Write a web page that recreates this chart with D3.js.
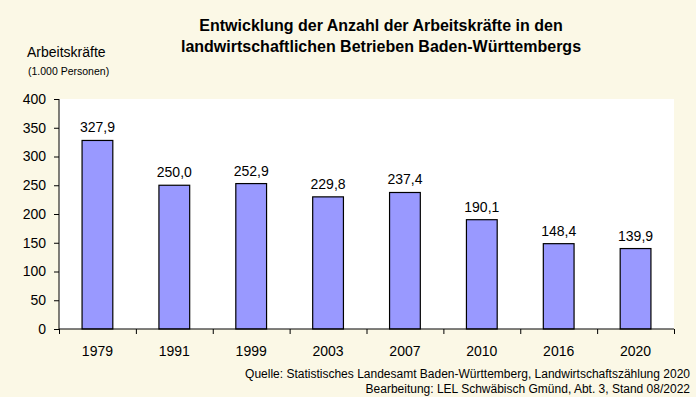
<!DOCTYPE html>
<html>
<head>
<meta charset="utf-8">
<script src="https://cdn.jsdelivr.net/npm/d3@7"></script>
<style>
  body { margin: 0; background: #fbf8e6; }
  svg { display: block; font-family: "Liberation Sans", Arial, sans-serif; }
</style>
</head>
<body>
<script>
// data
var years = ["1979", "1991", "1999", "2003", "2007", "2010", "2016", "2020"];
var workers = [327.9, 250.0, 252.9, 229.8, 237.4, 190.1, 148.4, 139.9];
var yTicks = [0, 50, 100, 150, 200, 250, 300, 350, 400];

var W = 696, H = 397;
var margin = {left: 59, right: 22, top: 99, bottom: 68},
    width = W - margin.left - margin.right,
    height = H - margin.top - margin.bottom;

var svg = d3.select("body").append("svg")
    .attr("width", W)
    .attr("height", H);

svg.append("rect").attr("width", W).attr("height", H).attr("fill", "#fbf8e6");

// title
var title = svg.append("text")
    .attr("x", 381)
    .attr("y", 31)
    .attr("text-anchor", "middle")
    .attr("font-size", "16px")
    .attr("font-weight", "bold");
title.append("tspan").attr("x", 381).text("Entwicklung der Anzahl der Arbeitskräfte in den");
title.append("tspan").attr("x", 381).attr("dy", 21).text("landwirtschaftlichen Betrieben Baden-Württembergs");

// y axis caption
svg.append("text").attr("x", 27).attr("y", 57).attr("font-size", "14px").text("Arbeitskräfte");
svg.append("text").attr("x", 28).attr("y", 75).attr("font-size", "10.5px").text("(1.000 Personen)");

var g = svg.append("g").attr("transform", "translate(" + margin.left + "," + margin.top + ")");

var x = d3.scaleBand().domain(years).range([0, width]).paddingInner(0.6).paddingOuter(0.3);
var y = d3.scaleLinear().domain([0, 400]).range([height, 0]);

g.append("rect").attr("width", width).attr("height", height).attr("fill", "#ffffff");

// bars
g.selectAll(".bar")
    .data(years)
    .enter().append("rect")
    .attr("class", "bar")
    .attr("x", function(d) { return x(d); })
    .attr("y", function(d, i) { return y(workers[i]); })
    .attr("width", x.bandwidth())
    .attr("height", function(d, i) { return height - y(workers[i]); })
    .attr("fill", "#9999ff")
    .attr("stroke", "#000")
    .attr("stroke-width", 1.2);

// value labels
g.selectAll(".val")
    .data(years)
    .enter().append("text")
    .attr("class", "val")
    .attr("x", function(d) { return x(d) + x.bandwidth() / 2; })
    .attr("y", function(d, i) { return y(workers[i]) - 8; })
    .attr("text-anchor", "middle")
    .attr("font-size", "14px")
    .text(function(d, i) { return d3.format(".1f")(workers[i]).replace(".", ","); });

// y axis
var yAxis = d3.axisLeft(y).tickValues(yTicks).tickSize(5).tickPadding(8);
var gy = g.append("g").call(yAxis);
gy.select(".domain").attr("d", "M0,0V" + height).attr("stroke", "#000");
gy.selectAll("text").attr("font-size", "14px").attr("fill", "#000")
    .attr("font-family", "Liberation Sans, Arial, sans-serif");

// x axis: ticks at category boundaries
var xb = d3.scaleLinear().domain([0, years.length]).range([0, width]);
var gx = g.append("g").attr("transform", "translate(0," + height + ")")
    .call(d3.axisBottom(xb).tickValues(d3.range(years.length + 1)).tickSize(5).tickFormat(""));
gx.select(".domain").attr("d", "M0,0H" + width).attr("stroke", "#000");

g.selectAll(".xl")
    .data(years)
    .enter().append("text")
    .attr("class", "xl")
    .attr("x", function(d) { return x(d) + x.bandwidth() / 2; })
    .attr("y", height + 27)
    .attr("text-anchor", "middle")
    .attr("font-size", "14px")
    .text(function(d) { return d; });

// source notes
svg.append("text").attr("x", 690).attr("y", 378).attr("text-anchor", "end").attr("font-size", "12px")
    .text("Quelle: Statistisches Landesamt Baden-Württemberg, Landwirtschaftszählung 2020");
svg.append("text").attr("x", 690).attr("y", 393).attr("text-anchor", "end").attr("font-size", "12px")
    .text("Bearbeitung: LEL Schwäbisch Gmünd, Abt. 3, Stand 08/2022");
</script>
</body>
</html>
